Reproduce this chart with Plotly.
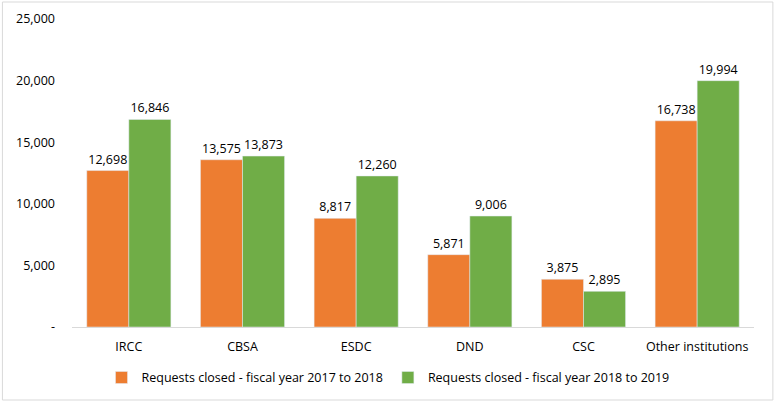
import plotly.graph_objects as go

categories = ["IRCC", "CBSA", "ESDC", "DND", "CSC", "Other institutions"]
closed_2017_2018 = [12698, 13575, 8817, 5871, 3875, 16738]
closed_2018_2019 = [16846, 13873, 12260, 9006, 2895, 19994]
series_names = ["Requests closed - fiscal year 2017 to 2018",
                "Requests closed - fiscal year 2018 to 2019"]
y_tickvals = [0, 5000, 10000, 15000, 20000, 25000]
y_ticktext = ["-", "5,000", "10,000", "15,000", "20,000", "25,000"]

font_family = "Open Sans, Noto Sans, sans-serif"

fig = go.Figure()
for name, vals, color in [(series_names[0], closed_2017_2018, "#ED7D31"),
                          (series_names[1], closed_2018_2019, "#70AD47")]:
    fig.add_trace(go.Bar(
        x=categories, y=vals, name=name, marker_color=color,
        text=[f"{v:,}" for v in vals], textposition="outside",
        textfont=dict(size=12.5, color="#000000"), cliponaxis=False,
    ))

fig.update_layout(
    width=776, height=405,
    margin=dict(l=72, r=22, t=19, b=78, autoexpand=False),
    barmode="group", bargap=0.26, bargroupgap=0,
    plot_bgcolor="white", paper_bgcolor="white",
    font=dict(family=font_family, size=12, color="#000000"),
    showlegend=True,
    legend=dict(orientation="h", xref="container", yref="container",
                x=0.5, xanchor="center", y=0.067, yanchor="middle",
                font=dict(size=12.5), itemwidth=30, traceorder="normal"),
    xaxis=dict(showline=True, linecolor="#D9D9D9", linewidth=1, automargin=False,
               ticks="", ticklabelstandoff=8, tickfont=dict(size=12.5)),
    yaxis=dict(range=[0, 25000], tickvals=y_tickvals, ticktext=y_ticktext,
               showgrid=False, zeroline=False, showline=False, automargin=False,
               ticks="", ticklabelstandoff=16, tickfont=dict(size=12.5)),
    shapes=[dict(type="rect", xref="paper", yref="paper",
                 x0=-70/686, x1=1+19/686, y0=-73/308, y1=1+17/308,
                 line=dict(color="#D9D9D9", width=1), fillcolor="rgba(0,0,0,0)")],
)

fig.write_html("out.html", config={"displayModeBar": False},
               post_script="document.body.style.margin='0';")
